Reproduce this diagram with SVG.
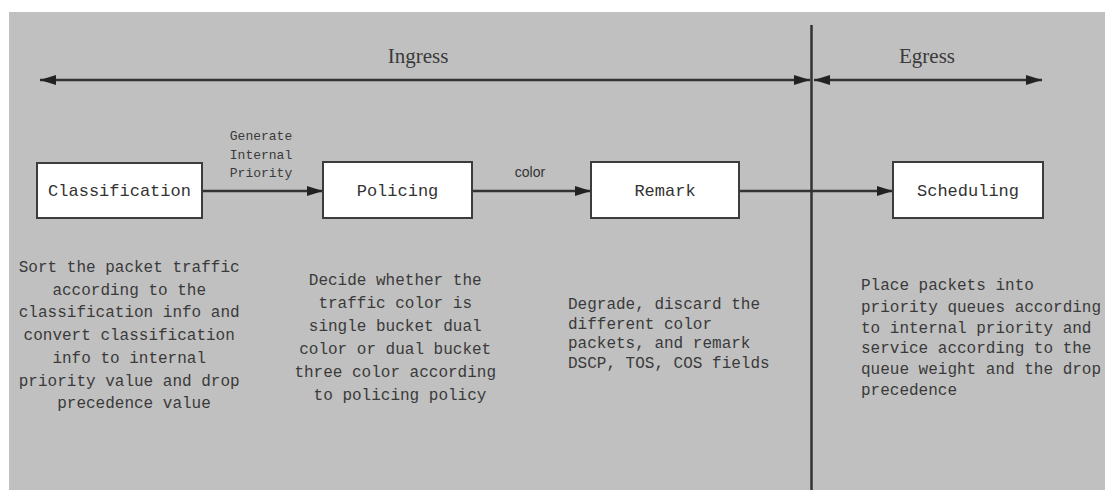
<svg xmlns="http://www.w3.org/2000/svg" width="1105" height="490" viewBox="0 0 1105 490">
<style>
.bg{fill:#c0c0c0}
.box{fill:#ffffff;stroke:#3c3c3c;stroke-width:2}
.ln{stroke:#333333;stroke-width:2.5;fill:none}
.nt{font-family:"Liberation Mono",monospace;font-size:17px;fill:#333333;text-anchor:middle}
.ds{font-family:"Liberation Mono",monospace;font-size:16px;fill:#3a3a3a}
.lb{font-family:"Liberation Mono",monospace;font-size:13px;fill:#3a3a3a;text-anchor:middle}
.hd{font-family:"Liberation Serif",serif;font-size:21px;fill:#3a3a3a;text-anchor:middle}
.sl{font-family:"Liberation Sans",sans-serif;font-size:14px;fill:#333333;text-anchor:middle}
</style>
<defs>
<marker id="ah" viewBox="0 0 16 10" refX="16" refY="5" markerWidth="16" markerHeight="10" markerUnits="userSpaceOnUse" orient="auto-start-reverse">
<path d="M0,0 L16,5 L0,10 Z" fill="#222222"/>
</marker>
</defs>
<rect x="0" y="0" width="1105" height="490" fill="#ffffff"/>
<rect class="bg" x="9" y="12" width="1096" height="478"/>

<g id="connectors">
<line class="ln" x1="811.5" y1="25" x2="811.5" y2="490"/>
<line class="ln" x1="40" y1="80" x2="810" y2="80" marker-start="url(#ah)" marker-end="url(#ah)"/>
<line class="ln" x1="814" y1="80" x2="1042" y2="80" marker-start="url(#ah)" marker-end="url(#ah)"/>
<line class="ln" x1="202" y1="191" x2="323" y2="191" marker-end="url(#ah)"/>
<line class="ln" x1="472" y1="191" x2="591" y2="191" marker-end="url(#ah)"/>
<line class="ln" x1="739" y1="191" x2="893" y2="191" marker-end="url(#ah)"/>
<text class="lb"><tspan x="261" y="140">Generate</tspan><tspan x="261" y="159">Internal</tspan><tspan x="261" y="177">Priority</tspan></text>
<text class="sl" x="530" y="177">color</text>
</g>

<g id="ingress-label"><text class="hd" x="418" y="63">Ingress</text></g>
<g id="egress-label"><text class="hd" x="927" y="63">Egress</text></g>

<g id="classification">
<rect class="box" x="37" y="163" width="165" height="55"/>
<text class="nt" x="119.5" y="196">Classification</text>
</g>
<g id="policing">
<rect class="box" x="323" y="162" width="149" height="56"/>
<text class="nt" x="397.5" y="196">Policing</text>
</g>
<g id="remark">
<rect class="box" x="591" y="162" width="148" height="56"/>
<text class="nt" x="665" y="196">Remark</text>
</g>
<g id="scheduling">
<rect class="box" x="893" y="162" width="150" height="56"/>
<text class="nt" x="968" y="196">Scheduling</text>
</g>

<g id="classification-desc">
<text class="ds" text-anchor="middle">
<tspan x="134" y="272">Sort the packet traffic</tspan>
<tspan x="134" y="295">according to the</tspan>
<tspan x="134" y="317">classification info and</tspan>
<tspan x="134" y="340">convert classification</tspan>
<tspan x="134" y="363">info to internal</tspan>
<tspan x="134" y="386">priority value and drop</tspan>
<tspan x="134" y="408">precedence value</tspan>
</text>
</g>
<g id="policing-desc">
<text class="ds" text-anchor="middle">
<tspan x="400" y="285">Decide whether the</tspan>
<tspan x="400" y="308">traffic color is</tspan>
<tspan x="400" y="331">single bucket dual</tspan>
<tspan x="400" y="354">color or dual bucket</tspan>
<tspan x="400" y="377">three color according</tspan>
<tspan x="400" y="400">to policing policy</tspan>
</text>
</g>
<g id="remark-desc">
<text class="ds">
<tspan x="568" y="309">Degrade, discard the</tspan>
<tspan x="568" y="328.5">different color</tspan>
<tspan x="568" y="348">packets, and remark</tspan>
<tspan x="568" y="368">DSCP, TOS, COS fields</tspan>
</text>
</g>
<g id="scheduling-desc">
<text class="ds">
<tspan x="861" y="290">Place packets into</tspan>
<tspan x="861" y="312">priority queues according</tspan>
<tspan x="861" y="333">to internal priority and</tspan>
<tspan x="861" y="353">service according to the</tspan>
<tspan x="861" y="374">queue weight and the drop</tspan>
<tspan x="861" y="395">precedence</tspan>
</text>
</g>
</svg>
